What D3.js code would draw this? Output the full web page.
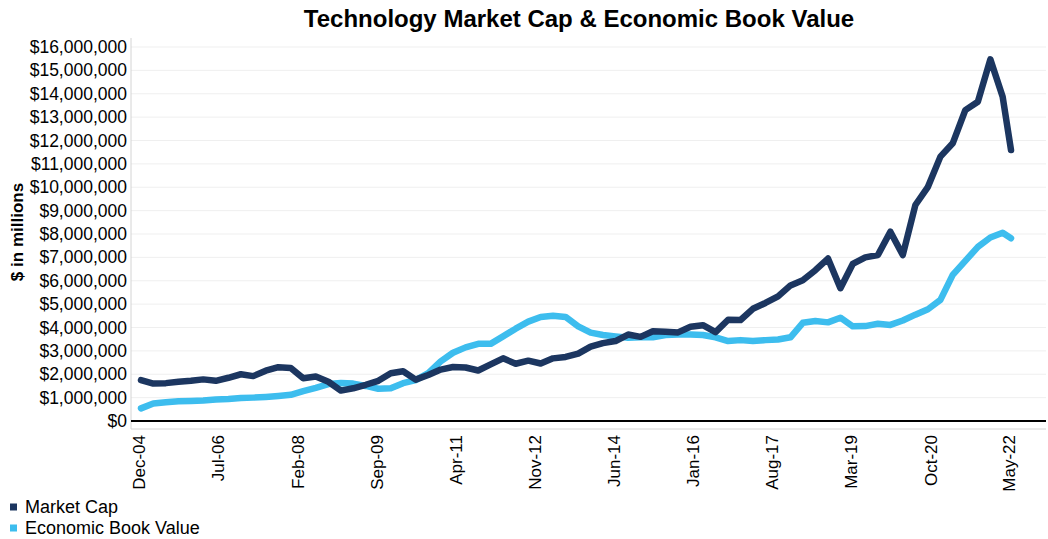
<!DOCTYPE html>
<html>
<head>
<meta charset="utf-8">
<script src="https://cdn.jsdelivr.net/npm/d3@7"></script>
<style>
  html, body { margin: 0; padding: 0; background: #fff; }
  svg { display: block; font-family: "Liberation Sans", Arial, sans-serif; }
</style>
</head>
<body>
<svg id="chart" width="1048" height="539"></svg>
<script>
// Quarter-end observation months (last point is the May-22 reading), "YYYY-MM"
const periods = [
  "2004-12","2005-03","2005-06","2005-09","2005-12","2006-03","2006-06","2006-09",
  "2006-12","2007-03","2007-06","2007-09","2007-12","2008-03","2008-06","2008-09",
  "2008-12","2009-03","2009-06","2009-09","2009-12","2010-03","2010-06","2010-09",
  "2010-12","2011-03","2011-06","2011-09","2011-12","2012-03","2012-06","2012-09",
  "2012-12","2013-03","2013-06","2013-09","2013-12","2014-03","2014-06","2014-09",
  "2014-12","2015-03","2015-06","2015-09","2015-12","2016-03","2016-06","2016-09",
  "2016-12","2017-03","2017-06","2017-09","2017-12","2018-03","2018-06","2018-09",
  "2018-12","2019-03","2019-06","2019-09","2019-12","2020-03","2020-06","2020-09",
  "2020-12","2021-03","2021-06","2021-09","2021-12","2022-03","2022-05"
];

// Market cap, $ in millions
const marketCap = [
  1750000,1600000,1620000,1680000,1720000,1780000,1720000,1850000,
  2000000,1920000,2150000,2300000,2270000,1830000,1900000,1680000,
  1300000,1400000,1550000,1720000,2040000,2130000,1770000,1970000,
  2200000,2310000,2290000,2160000,2420000,2680000,2450000,2580000,
  2460000,2680000,2740000,2880000,3180000,3330000,3420000,3700000,
  3600000,3840000,3820000,3790000,4030000,4100000,3800000,4330000,
  4320000,4800000,5050000,5330000,5800000,6020000,6450000,6950000,
  5680000,6720000,7000000,7100000,8100000,7100000,9240000,10020000,
  11310000,11880000,13300000,13660000,15470000,13870000,11590000
];

// Economic book value, $ in millions
const economicBookValue = [
  540000,750000,800000,840000,860000,880000,920000,940000,
  980000,1000000,1030000,1070000,1120000,1280000,1420000,1580000,
  1630000,1600000,1500000,1380000,1400000,1620000,1750000,2050000,
  2550000,2920000,3150000,3300000,3300000,3620000,3950000,4250000,
  4450000,4500000,4450000,4050000,3780000,3680000,3620000,3560000,
  3580000,3580000,3680000,3700000,3700000,3680000,3580000,3420000,
  3460000,3420000,3460000,3490000,3580000,4200000,4280000,4220000,
  4420000,4050000,4060000,4160000,4110000,4300000,4550000,4780000,
  5180000,6250000,6850000,7450000,7850000,8050000,7820000
];

// Axis labels
const xTickLabels = ["Dec-04","Jul-06","Feb-08","Sep-09","Apr-11","Nov-12",
                     "Jun-14","Jan-16","Aug-17","Mar-19","Oct-20","May-22"];
const yTickValues = d3.range(0, 16000001, 1000000);

const seriesNames = ["Market Cap", "Economic Book Value"];
const seriesColors = ["#1c3660", "#3dbdee"];

const parseMonth = d3.timeParse("%Y-%m");
const parseLabel = d3.timeParse("%b-%y");
const fmtDollar = v => "$" + d3.format(",")(v);

const svg = d3.select("#chart");

const plot = { left: 131, right: 1046, top: 38, bottom: 429 };

const x = d3.scaleTime()
  .domain([parseMonth(periods[0]), parseMonth(periods[periods.length - 1])])
  .range([141, 1011]);

const y = d3.scaleLinear()
  .domain([0, 16000000])
  .range([421, 47]);

// Title
svg.append("text")
  .attr("x", 579).attr("y", 27)
  .attr("text-anchor", "middle")
  .attr("font-size", 24).attr("font-weight", "bold")
  .attr("fill", "#000")
  .text("Technology Market Cap & Economic Book Value");

// Horizontal gridlines
svg.append("g")
  .selectAll("line")
  .data(yTickValues.filter(v => v > 0))
  .join("line")
  .attr("x1", plot.left).attr("x2", plot.right)
  .attr("y1", d => y(d)).attr("y2", d => y(d))
  .attr("stroke", "#efefef").attr("stroke-width", 1);

// Plot-area frame (left and bottom edges)
svg.append("line")
  .attr("x1", plot.left).attr("x2", plot.left)
  .attr("y1", plot.top).attr("y2", plot.bottom)
  .attr("stroke", "#d4d4d4").attr("stroke-width", 1);
svg.append("line")
  .attr("x1", plot.left).attr("x2", plot.right)
  .attr("y1", plot.bottom).attr("y2", plot.bottom)
  .attr("stroke", "#d4d4d4").attr("stroke-width", 1);

// Y axis
const yAxis = svg.append("g")
  .attr("transform", `translate(${plot.left},0)`)
  .call(d3.axisLeft(y).tickValues(yTickValues).tickFormat(fmtDollar).tickSize(0).tickPadding(4));
yAxis.select(".domain").remove();
yAxis.selectAll("text")
  .attr("font-size", 17.5).attr("fill", "#000")
  .attr("font-family", "Liberation Sans, Arial, sans-serif");

// Y axis title
svg.append("text")
  .attr("transform", "translate(23,232) rotate(-90)")
  .attr("text-anchor", "middle")
  .attr("font-size", 17).attr("font-weight", "bold")
  .text("$ in millions");

// X axis with rotated labels
const xAxis = svg.append("g")
  .attr("transform", `translate(0,${y(0)})`)
  .call(d3.axisBottom(x)
    .tickValues(xTickLabels.map(parseLabel))
    .tickFormat(d3.timeFormat("%b-%y"))
    .tickSize(0));
xAxis.select(".domain")
  .attr("d", `M${plot.left},0H${plot.right}`)
  .attr("stroke", "#000").attr("stroke-width", 2);
xAxis.selectAll("text")
  .attr("font-size", 17).attr("fill", "#000")
  .attr("font-family", "Liberation Sans, Arial, sans-serif")
  .attr("text-anchor", "end")
  .attr("transform", "rotate(-90)")
  .attr("x", -14).attr("y", -2).attr("dy", "0.35em");

// Series lines
const series = [marketCap, economicBookValue];
const line = d3.line()
  .x((d, i) => x(parseMonth(periods[i])))
  .y(d => y(d))
  .curve(d3.curveLinear);

// Book value is drawn first so the market cap line sits on top
[1, 0].forEach(s => {
  svg.append("path")
    .datum(series[s])
    .attr("fill", "none")
    .attr("stroke", seriesColors[s])
    .attr("stroke-width", 6.5)
    .attr("stroke-linejoin", "round")
    .attr("stroke-linecap", "round")
    .attr("d", line);
});

// Legend
const legend = svg.append("g");
seriesNames.forEach((name, i) => {
  const g = legend.append("g").attr("transform", `translate(10,${507 + i * 21})`);
  g.append("rect").attr("x", 0).attr("y", -3.5).attr("width", 7).attr("height", 7)
    .attr("fill", seriesColors[i]);
  g.append("text").attr("x", 15).attr("y", 0).attr("dy", "0.35em")
    .attr("font-size", 18).attr("fill", "#000")
    .text(name);
});
</script>
</body>
</html>
